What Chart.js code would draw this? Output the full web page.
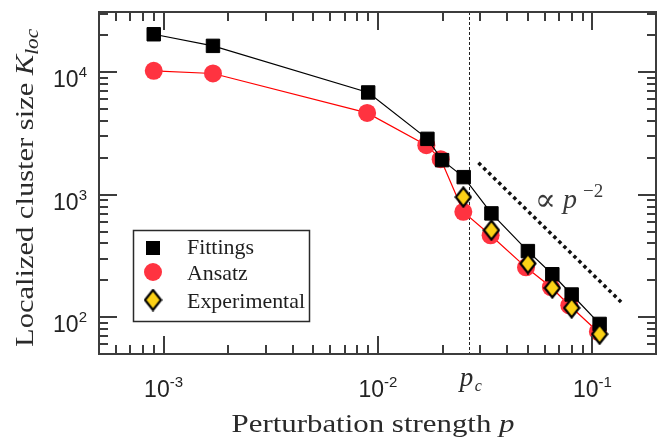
<!DOCTYPE html>
<html lang="en">
<head>
  <meta charset="UTF-8" />
  <title>Localized cluster size</title>
  <script src="https://cdn.jsdelivr.net/npm/chart.js"></script>
  <style>
    html, body { margin: 0; padding: 0; background: #fff; }
  </style>
</head>
<body>
  <canvas id="clusterChart" width="657" height="439"></canvas>

  <script>
    // values
    const pFit = [9e-4, 1.7e-3, 9.0e-3, 0.0170, 0.0199, 0.0251, 0.0338, 0.050, 0.065, 0.080, 0.108];
    const kFit = [20400, 16400, 6830, 2855, 1913, 1390, 703, 346, 224, 153, 88];

    const pAns = [9e-4, 1.7e-3, 8.9e-3, 0.0168, 0.0196, 0.0250, 0.0335, 0.049, 0.064, 0.078, 0.106];
    const kAns = [10250, 9760, 4650, 2535, 1950, 724, 466, 255, 176, 125, 76];

    const pExp = [0.0250, 0.0338, 0.050, 0.065, 0.080, 0.108];
    const kExp = [955, 513, 274, 173, 119, 72.6];

    const pCrit = [0.0265];
    const slopeP = [0.0294, 0.136];
    const slopeK = [1820, 133];

    const xMajor = [1e-3, 1e-2, 1e-1];
    const xExp = ['-3', '-2', '-1'];
    const yMajor = [1e2, 1e3, 1e4];
    const yExp = ['2', '3', '4'];

    const xRange = [5e-4, 0.2];
    const yRange = [50, 31000];

    const SERIF = '"Liberation Serif", "DejaVu Serif", serif';
    const SANS = '"Liberation Sans", Arial, sans-serif';
    const GOLD = '#fcd116';
    const RED = '#ff3340';

    function pts(xs, ys) {
      return xs.map((x, i) => ({ x: x, y: ys[i] }));
    }

    // yellow diamond with black edge, used as point style
    function makeDiamond(w, h) {
      const c = document.createElement('canvas');
      c.width = w; c.height = h;
      const g = c.getContext('2d');
      g.beginPath();
      g.moveTo(w / 2, 1.5);
      g.lineTo(w - 1.5, h / 2);
      g.lineTo(w / 2, h - 1.5);
      g.lineTo(1.5, h / 2);
      g.closePath();
      g.fillStyle = GOLD;
      g.fill();
      g.lineWidth = 2.2;
      g.strokeStyle = '#000';
      g.stroke();
      return c;
    }
    const diamond = makeDiamond(18, 22);
    const diamondBig = makeDiamond(19, 23);

    // "10" with a raised exponent
    function drawPow(ctx, exp, x, y, align) {
      ctx.font = '23px ' + SANS;
      const w1 = ctx.measureText('10').width;
      ctx.font = '15px ' + SANS;
      const w2 = ctx.measureText(exp).width;
      let x0 = align === 'center' ? x - (w1 + w2) / 2 : x - (w1 + w2);
      ctx.font = '23px ' + SANS;
      ctx.fillText('10', x0, y);
      ctx.font = '15px ' + SANS;
      ctx.fillText(exp, x0 + w1, y - 10);
    }

    // runs of text, each {t, size, italic, dy}, stretched to a given width
    function drawRuns(ctx, runs, cx, y, width) {
      let total = 0;
      runs.forEach(r => {
        ctx.font = (r.italic ? 'italic ' : '') + r.size + 'px ' + SERIF;
        r.w = ctx.measureText(r.t).width;
        total += r.w;
      });
      const s = width / total;
      ctx.save();
      ctx.translate(cx - width / 2, y);
      ctx.scale(s, 1);
      let x = 0;
      runs.forEach(r => {
        ctx.font = (r.italic ? 'italic ' : '') + r.size + 'px ' + SERIF;
        ctx.fillText(r.t, x, r.dy || 0);
        x += r.w;
      });
      ctx.restore();
    }

    const framePlugin = {
      id: 'frame',
      beforeDatasetsDraw(chart) {
        const ctx = chart.ctx, a = chart.chartArea, xs = chart.scales.x;
        const px = Math.round(xs.getPixelForValue(pCrit[0])) + 0.5;
        ctx.save();
        ctx.strokeStyle = '#222';
        ctx.lineWidth = 1;
        ctx.setLineDash([3, 2]);
        ctx.beginPath();
        ctx.moveTo(px, a.top);
        ctx.lineTo(px, a.bottom);
        ctx.stroke();
        ctx.restore();
      },
      afterDraw(chart) {
        const ctx = chart.ctx, a = chart.chartArea;
        const xs = chart.scales.x, ys = chart.scales.y;
        ctx.save();

        // box
        ctx.strokeStyle = '#3c3c3c';
        ctx.lineWidth = 2;
        ctx.strokeRect(a.left, a.top, a.right - a.left - 1, a.bottom - a.top);

        // inward ticks on all four sides
        ctx.beginPath();
        for (let d = -4; d <= 0; d++) {
          for (let m = 1; m <= 9; m++) {
            const v = m * Math.pow(10, d);
            if (v <= xRange[0] || v >= xRange[1]) continue;
            const x = Math.round(xs.getPixelForValue(v));
            const len = m === 1 ? 18 : 9;
            ctx.moveTo(x, a.bottom); ctx.lineTo(x, a.bottom - len);
            ctx.moveTo(x, a.top); ctx.lineTo(x, a.top + len);
          }
        }
        for (let d = 1; d <= 4; d++) {
          for (let m = 1; m <= 9; m++) {
            const v = m * Math.pow(10, d);
            if (v <= yRange[0] || v >= yRange[1]) continue;
            const y = Math.round(ys.getPixelForValue(v));
            const len = m === 1 ? 18 : 9;
            ctx.moveTo(a.left, y); ctx.lineTo(a.left + len, y);
            ctx.moveTo(a.right - 1, y); ctx.lineTo(a.right - 1 - len, y);
          }
        }
        ctx.stroke();

        // tick labels
        ctx.fillStyle = '#222';
        ctx.textBaseline = 'alphabetic';
        ctx.textAlign = 'left';
        xMajor.forEach((v, i) => drawPow(ctx, xExp[i], xs.getPixelForValue(v), a.bottom + 43, 'center'));
        yMajor.forEach((v, i) => drawPow(ctx, yExp[i], a.left - 12, ys.getPixelForValue(v) + 15, 'right'));

        // axis titles
        ctx.fillStyle = '#2a2a2a';
        drawRuns(ctx, [
          { t: 'Perturbation strength ', size: 26 },
          { t: 'p', size: 26, italic: true }
        ], 373, 432, 283);

        ctx.save();
        ctx.translate(33, 188);
        ctx.rotate(-Math.PI / 2);
        drawRuns(ctx, [
          { t: 'Localized cluster size ', size: 26 },
          { t: 'K', size: 26, italic: true },
          { t: 'loc', size: 18, italic: true, dy: 5 }
        ], 0, 0, 318);
        ctx.restore();

        // p_c label
        const pcx = xs.getPixelForValue(pCrit[0]);
        ctx.font = 'italic 27px ' + SERIF;
        ctx.fillText('p', pcx - 9, 386);
        ctx.font = 'italic 16px ' + SERIF;
        ctx.fillText('c', pcx + 6, 391);

        // slope annotation
        ctx.fillStyle = '#3a3a3a';
        ctx.font = '31px "DejaVu Serif", serif';
        ctx.fillText('\u221D', 535, 210);
        ctx.font = 'italic 28px ' + SERIF;
        ctx.fillText('p', 563, 208);
        ctx.font = '19px ' + SERIF;
        ctx.fillText('\u22122', 583, 197);

        // legend
        ctx.fillStyle = '#fff';
        ctx.fillRect(133, 230, 177, 92);
        ctx.strokeStyle = '#2a2a2a';
        ctx.lineWidth = 1.5;
        ctx.strokeRect(133.5, 230.5, 176, 91);

        ctx.fillStyle = '#000';
        ctx.fillRect(146, 241, 14, 14);
        ctx.fillStyle = RED;
        ctx.beginPath();
        ctx.arc(153, 272, 9, 0, Math.PI * 2);
        ctx.fill();
        ctx.drawImage(diamondBig, 153 - 9.5, 300 - 11.5);

        ctx.fillStyle = '#1e1e1e';
        const labels = ['Fittings', 'Ansatz', 'Experimental'];
        const base = [254, 280, 308];
        ctx.font = '22px ' + SERIF;
        const sx = 118 / ctx.measureText('Experimental').width;
        labels.forEach((t, i) => {
          ctx.save();
          ctx.translate(187, base[i]);
          ctx.scale(sx, 1);
          ctx.fillText(t, 0, 0);
          ctx.restore();
        });

        ctx.restore();
      }
    };

    function draw() {
      const ctx = document.getElementById('clusterChart').getContext('2d');
      new Chart(ctx, {
        type: 'scatter',
        data: {
          datasets: [
            {
              label: 'Experimental',
              data: pts(pExp, kExp),
              showLine: false,
              pointStyle: diamond,
              pointRadius: 9
            },
            {
              label: 'Fittings',
              data: pts(pFit, kFit),
              showLine: true,
              borderColor: '#000',
              borderWidth: 1.2,
              pointStyle: 'rect',
              pointRadius: 9.5,
              pointBackgroundColor: '#000',
              pointBorderColor: '#000',
              pointBorderWidth: 1
            },
            {
              label: 'Ansatz',
              data: pts(pAns, kAns),
              showLine: true,
              borderColor: '#ff0000',
              borderWidth: 1.2,
              pointStyle: 'circle',
              pointRadius: 9,
              pointBackgroundColor: RED,
              pointBorderWidth: 0
            },
            {
              label: 'slope',
              data: pts(slopeP, slopeK),
              showLine: true,
              borderColor: '#111',
              borderWidth: 3.5,
              borderDash: [3.5, 3.5],
              borderCapStyle: 'butt',
              pointRadius: 0
            }
          ]
        },
        options: {
          responsive: false,
          animation: false,
          events: [],
          layout: { autoPadding: false, padding: { left: 99, right: 0, top: 12, bottom: 85 } },
          plugins: {
            legend: { display: false },
            tooltip: { enabled: false }
          },
          scales: {
            x: { type: 'logarithmic', min: xRange[0], max: xRange[1], display: false },
            y: { type: 'logarithmic', min: yRange[0], max: yRange[1], display: false }
          }
        },
        plugins: [framePlugin]
      });
    }

    Promise.all([
      document.fonts.load('22px "Liberation Serif"'),
      document.fonts.load('italic 22px "Liberation Serif"'),
      document.fonts.load('21px "Liberation Sans"'),
      document.fonts.load('22px "DejaVu Serif"')
    ]).then(draw, draw);
  </script>
</body>
</html>
